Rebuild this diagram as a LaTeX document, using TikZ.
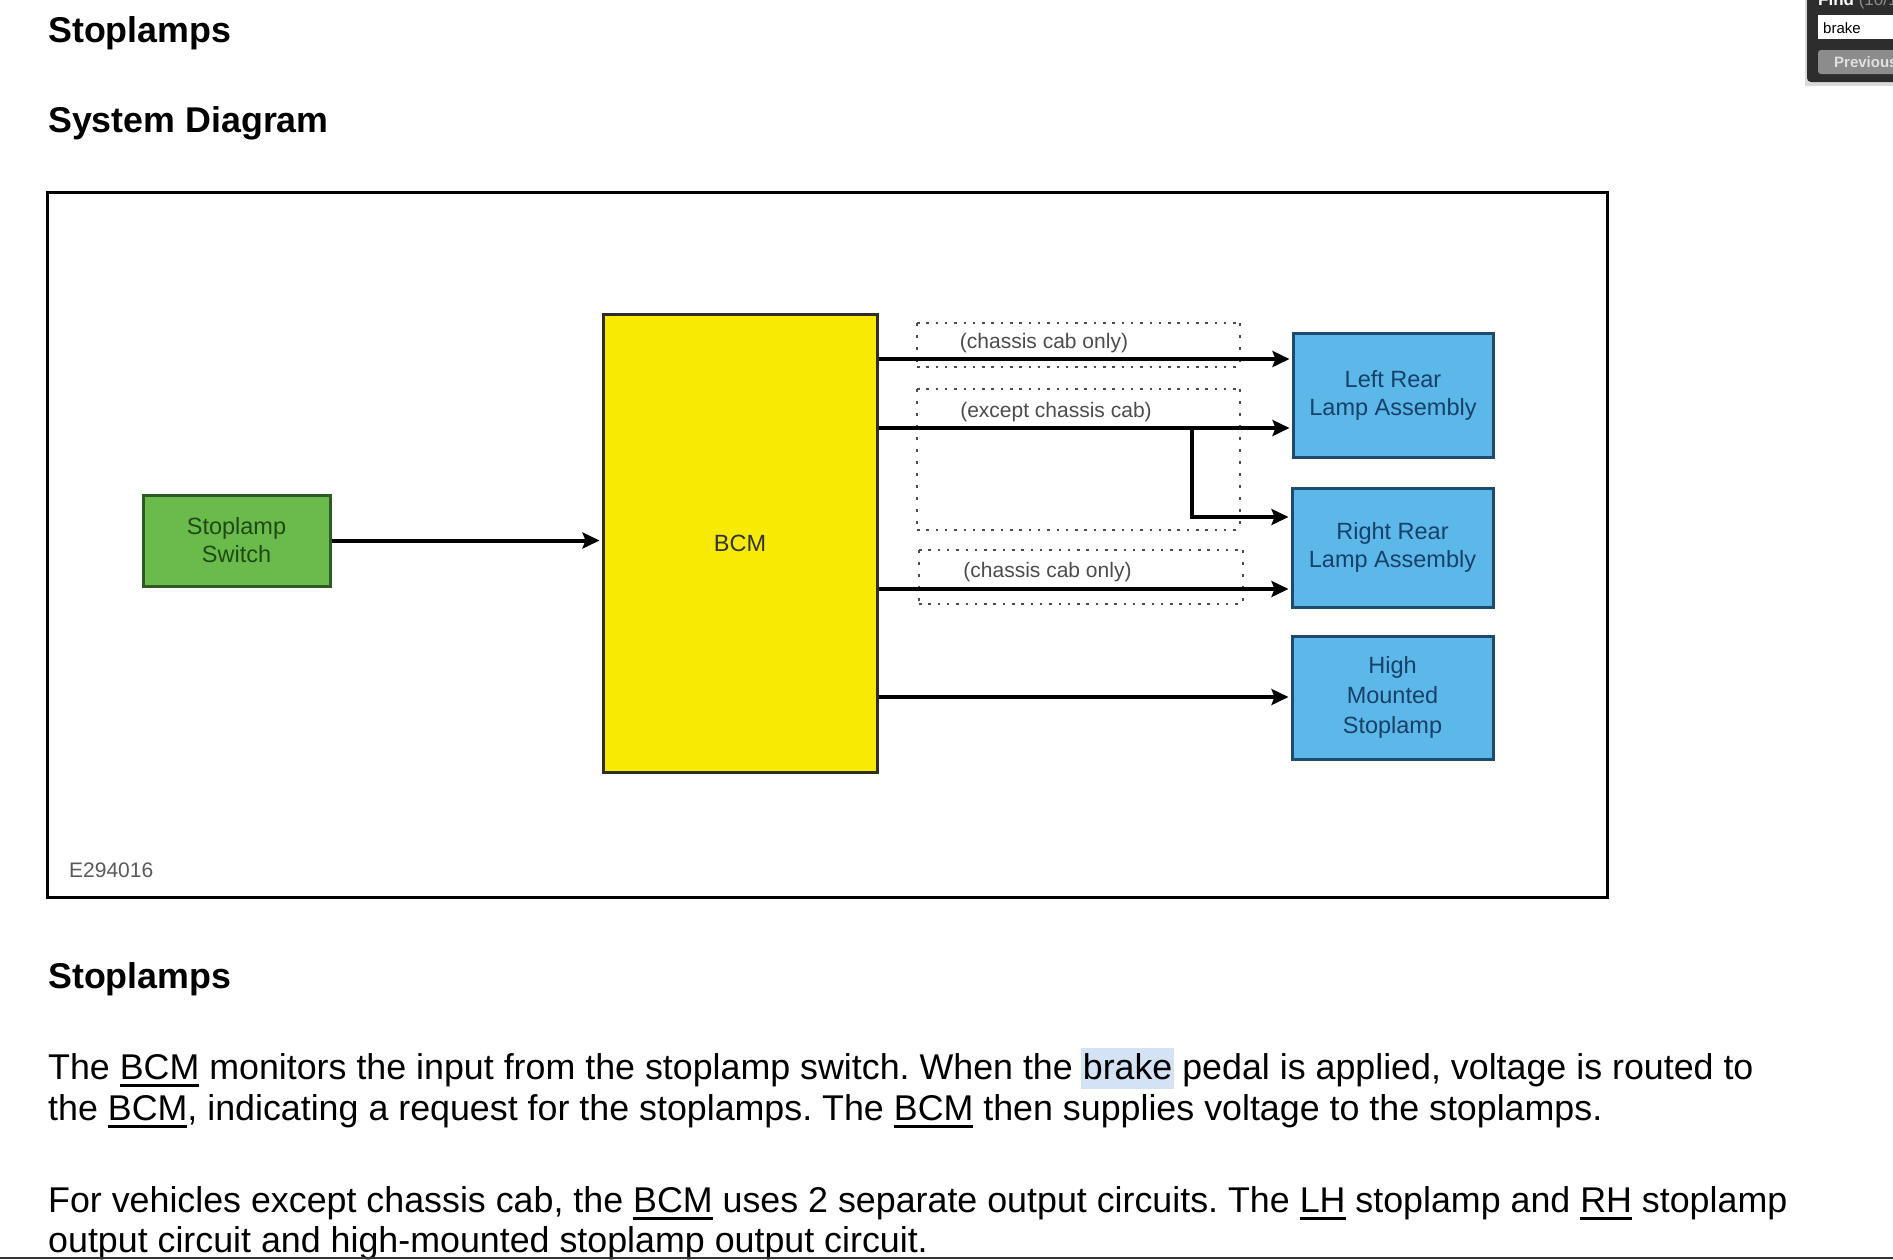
\documentclass[tikz,border=0pt]{standalone}
\usepackage{fontspec}
\setmainfont{Liberation Sans}
\usetikzlibrary{arrows.meta}
\frenchspacing
\definecolor{grfill}{HTML}{6ABB4B}
\definecolor{grline}{HTML}{2E5A25}
\definecolor{grtext}{HTML}{1F4A14}
\definecolor{blfill}{HTML}{5BB8E8}
\definecolor{blline}{HTML}{1F4A6E}
\definecolor{bltext}{HTML}{17406A}
\definecolor{yefill}{HTML}{F8EA02}
\definecolor{yeline}{HTML}{2E2E22}
\definecolor{hlblue}{HTML}{D3E2F5}
\definecolor{panel}{HTML}{2D2D2D}
\newcommand\myul[1]{\setbox0\hbox{#1}\rlap{\rule[-8pt]{\wd0}{3pt}}\box0\relax}
\newcommand\myhl[1]{\setbox0\hbox{#1}\rlap{\hskip-2pt\color{hlblue}\rule[-10pt]{\dimexpr\wd0+4pt\relax}{41pt}}\box0\relax}
\tikzset{
  boxbase/.style={draw, line width=3pt, inner sep=0pt, align=center, font=\fontsize{23.5}{28}\selectfont},
  greenbox/.style={boxbase, fill=grfill, draw=grline, text=grtext},
  bluebox/.style={boxbase, fill=blfill, draw=blline, text=bltext},
  bcmbox/.style={boxbase, fill=yefill, draw=yeline, text=black!80},
  arr/.style={line width=4pt, -{Stealth[length=17pt,width=16pt,inset=3pt]}, shorten >=2pt},
  hdots/.style={draw=black!70, line width=2.5pt, dash pattern=on 2.5pt off 6.8pt},
  vdots/.style={draw=black!70, line width=2.5pt, dash pattern=on 2.5pt off 9.5pt},
  lbl/.style={text=black!70, font=\fontsize{21}{25}\selectfont, inner sep=0pt},
  bodytxt/.style={anchor=base west, inner sep=0pt, font=\fontsize{35.8}{41}\selectfont},
  headtxt/.style={anchor=base west, inner sep=0pt, font=\fontsize{35.8}{41}\selectfont\bfseries},
}
\begin{document}
\begin{tikzpicture}[x=1pt,y=-1pt]
\useasboundingbox (0,0) rectangle (1893,1259);
\fill[white] (0,0) rectangle (1893,1259);
% headings
\node[headtxt] (h1) at (48,42) {Stoplamps};
\node[headtxt] (h2) at (48,132) {System Diagram};
% frame
\draw[line width=3pt] (47,192) rectangle (1607,897);
% nodes
\node[greenbox, minimum width=187pt, minimum height=91pt] (sw) at (236.5,540.5) {Stoplamp\\Switch};
\node[bcmbox, minimum width=274pt, minimum height=458pt] (bcm) at (740,543) {BCM};
\node[bluebox, minimum width=200pt, minimum height=124pt] (lr) at (1393,395) {Left Rear\\Lamp Assembly};
\node[bluebox, minimum width=201pt, minimum height=119pt] (rr) at (1392.5,547.5) {Right Rear\\Lamp Assembly};
\node[bluebox, minimum width=201pt, minimum height=123pt, font=\fontsize{23.5}{30}\selectfont] (hm) at (1392.5,697.5) {High\\Mounted\\Stoplamp};
% dotted boxes
\draw[hdots] (917,323) -- (1240,323) (917,367) -- (1240,367);
\draw[vdots] (917,323) -- (917,367) (1240,323) -- (1240,367);
\draw[hdots] (917,389) -- (1240,389) (917,530) -- (1240,530);
\draw[vdots] (917,389) -- (917,530) (1240,389) -- (1240,530);
\draw[hdots] (919,550) -- (1243,550) (919,604) -- (1243,604);
\draw[vdots] (919,550) -- (919,604) (1243,550) -- (1243,604);
\node[lbl] (l1) at (1044,343) {(chassis cab only)};
\node[lbl] (l2) at (1056,412) {(except chassis cab)};
\node[lbl] (l3) at (1047.5,572) {(chassis cab only)};
% connector y levels
\coordinate (ya) at (0,359);
\coordinate (yb) at (0,428);
\coordinate (yc) at (0,517);
\coordinate (yd) at (0,589);
\coordinate (ye) at (0,697);
\coordinate (br) at (1192,428);
\draw[arr] (sw.east) -- (bcm.west |- sw.east);
\draw[arr] (bcm.east |- ya) -- (lr.west |- ya);
\draw[arr] (bcm.east |- yb) -- (lr.west |- yb);
\draw[arr] (br) |- (rr.west |- yc);
\draw[arr] (bcm.east |- yd) -- (rr.west |- yd);
\draw[arr] (bcm.east |- ye) -- (hm.west |- ye);
\node[anchor=base west, inner sep=0pt, text=black!65, font=\fontsize{21}{25}\selectfont] (code) at (69,877) {E294016};
% text below
\node[headtxt] (h3) at (48,988) {Stoplamps};
\node[bodytxt] (t1) at (48,1079) {The \myul{BCM} monitors the input from the stoplamp switch. When the \myhl{brake} pedal is applied, voltage is routed to};
\node[bodytxt] (t2) at (48,1120) {the \myul{BCM}, indicating a request for the stoplamps. The \myul{BCM} then supplies voltage to the stoplamps.};
\node[bodytxt] (t3) at (48,1212) {For vehicles except chassis cab, the \myul{BCM} uses 2 separate output circuits. The \myul{LH} stoplamp and \myul{RH} stoplamp};
\node[bodytxt] (t4) at (48,1252) {output circuit and high-mounted stoplamp output circuit.};
\draw[line width=2pt, black!80] (0,1258) -- (1893,1258);
% find panel
\fill[black!15] (1805,-20) rectangle (1900,86);
\fill[panel, rounded corners=4pt] (1807,-20) rectangle (1905,82);
\node[anchor=base west, inner sep=0pt, text=white, font=\fontsize{17}{20}\selectfont\bfseries] (fnd) at (1818,5) {Find \mdseries\color{black!45}(10/10)};
\fill[white] (1818,15) rectangle (1900,39);
\node[anchor=base west, inner sep=0pt, font=\fontsize{15}{18}\selectfont] (q) at (1823,33) {brake};
\fill[black!45, rounded corners=3pt] (1818,50) rectangle (1910,74);
\node[anchor=base west, inner sep=0pt, text=black!12, font=\fontsize{15}{18}\selectfont\bfseries] (prev) at (1834,67) {Previous};
\end{tikzpicture}
\end{document}
